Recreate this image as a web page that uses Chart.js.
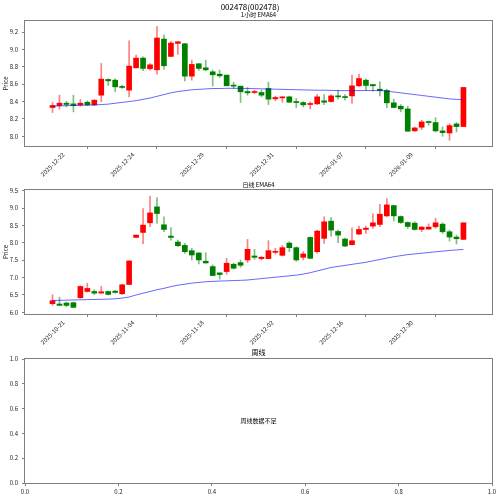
<!DOCTYPE html>
<html>
<head>
<meta charset="utf-8">
<script src="https://cdn.jsdelivr.net/npm/chart.js@4.4.1/dist/chart.umd.min.js"></script>
<style>
  body { margin: 0; background: #fff; width: 500px; height: 496px; position: relative; overflow: hidden; }
  canvas { position: absolute; left: 0; }
</style>
</head>
<body>
<canvas id="hourChart" width="500" height="180" style="top:0px"></canvas>
<canvas id="dayChart" width="500" height="165" style="top:180px"></canvas>
<canvas id="weekChart" width="500" height="151" style="top:345px"></canvas>
<script>
// 1小时 candles
const hourOpen = [8.331, 8.354, 8.381, 8.373, 8.362, 8.392, 8.362, 8.473, 8.654, 8.646,
  8.573, 8.531, 8.788, 8.900, 8.777, 8.765, 9.119, 8.919, 9.069, 9.065,
  8.692, 8.835, 8.788, 8.742, 8.715, 8.704, 8.589, 8.577, 8.515, 8.504,
  8.504, 8.550, 8.431, 8.442, 8.454, 8.400, 8.388, 8.366, 8.373, 8.408,
  8.400, 8.465, 8.454, 8.465, 8.581, 8.646, 8.596, 8.542, 8.527, 8.385,
  8.346, 8.315, 8.062, 8.104, 8.169, 8.158, 8.062, 8.038, 8.142, 8.112];
const hourHigh = [8.388, 8.473, 8.404, 8.473, 8.423, 8.408, 8.423, 8.838, 8.662, 8.662,
  8.585, 9.100, 8.935, 8.915, 8.838, 9.262, 9.165, 9.092, 9.092, 9.070,
  8.877, 8.835, 8.877, 8.762, 8.762, 8.704, 8.623, 8.577, 8.562, 8.531,
  8.531, 8.623, 8.462, 8.454, 8.462, 8.435, 8.400, 8.396, 8.481, 8.481,
  8.481, 8.531, 8.481, 8.704, 8.715, 8.662, 8.596, 8.627, 8.542, 8.427,
  8.365, 8.346, 8.108, 8.185, 8.175, 8.215, 8.108, 8.146, 8.158, 8.562];
const hourLow = [8.273, 8.312, 8.338, 8.281, 8.346, 8.354, 8.354, 8.396, 8.585, 8.512,
  8.550, 8.454, 8.788, 8.754, 8.762, 8.715, 8.773, 8.919, 8.942, 8.638,
  8.646, 8.758, 8.754, 8.577, 8.677, 8.581, 8.550, 8.388, 8.473, 8.492,
  8.454, 8.365, 8.408, 8.392, 8.388, 8.331, 8.338, 8.312, 8.365, 8.365,
  8.392, 8.427, 8.415, 8.377, 8.569, 8.531, 8.519, 8.465, 8.327, 8.331,
  8.281, 8.058, 8.058, 8.077, 8.127, 8.050, 8.000, 7.954, 8.050, 8.112];
const hourClose = [8.354, 8.381, 8.366, 8.354, 8.381, 8.362, 8.415, 8.658, 8.638, 8.569,
  8.562, 8.808, 8.900, 8.781, 8.823, 9.131, 8.812, 9.073, 9.088, 8.692,
  8.827, 8.781, 8.765, 8.708, 8.696, 8.581, 8.577, 8.512, 8.500, 8.515,
  8.473, 8.427, 8.446, 8.454, 8.392, 8.388, 8.362, 8.373, 8.454, 8.392,
  8.465, 8.454, 8.446, 8.581, 8.665, 8.585, 8.581, 8.527, 8.385, 8.331,
  8.315, 8.058, 8.096, 8.165, 8.158, 8.062, 8.042, 8.123, 8.112, 8.562];
const hourEma = [8.346, 8.350, 8.352, 8.354, 8.356, 8.358, 8.360, 8.365, 8.370, 8.380,
  8.390, 8.400, 8.410, 8.425, 8.440, 8.460, 8.480, 8.500, 8.515, 8.525,
  8.535, 8.540, 8.545, 8.550, 8.550, 8.552, 8.552, 8.552, 8.550, 8.548,
  8.546, 8.544, 8.542, 8.540, 8.538, 8.536, 8.534, 8.532, 8.530, 8.530,
  8.528, 8.526, 8.525, 8.525, 8.526, 8.527, 8.527, 8.526, 8.520, 8.510,
  8.500, 8.490, 8.480, 8.470, 8.460, 8.450, 8.440, 8.430, 8.425, 8.420];
const hourTickPos = [0, 10, 20, 30, 40, 50, 60];
const hourTickLabels = ["2025-12-22", "2025-12-24", "2025-12-29", "2025-12-31", "2026-01-07", "2026-01-09", ""];
const hourYTicks = [8.0, 8.2, 8.4, 8.6, 8.8, 9.0, 9.2];

// 日线 candles
const dayOpen = [6.248, 6.239, 6.267, 6.277, 6.420, 6.600, 6.600, 6.553, 6.600, 6.610,
  6.534, 6.801, 8.155, 8.298, 8.575, 9.033, 8.518, 8.193, 8.022, 7.926,
  7.774, 7.707, 7.469, 7.316, 7.135, 7.173, 7.383, 7.431, 7.507, 7.621,
  7.545, 7.545, 7.726, 7.640, 7.993, 7.860, 7.583, 8.155, 7.745, 8.127,
  8.623, 8.327, 8.108, 7.946, 8.251, 8.384, 8.480, 8.527, 8.775, 9.071,
  8.756, 8.585, 8.565, 8.384, 8.394, 8.461, 8.537, 8.318, 8.165, 8.098];
const dayHigh = [6.506, 6.439, 6.296, 6.296, 6.763, 6.839, 6.649, 6.744, 6.610, 6.630,
  6.811, 7.478, 8.222, 8.985, 9.347, 9.300, 8.747, 8.441, 8.079, 7.984,
  7.841, 7.717, 7.717, 7.364, 7.135, 7.555, 7.412, 7.507, 8.098, 7.812,
  7.612, 8.060, 7.841, 7.917, 8.031, 7.888, 7.745, 8.174, 8.365, 8.747,
  8.728, 8.365, 8.136, 8.432, 8.480, 8.480, 8.842, 9.109, 9.271, 9.080,
  8.775, 8.604, 8.604, 8.470, 8.546, 8.708, 8.575, 8.365, 8.222, 8.575];
const dayLow = [6.200, 6.200, 6.162, 6.143, 6.400, 6.582, 6.506, 6.553, 6.496, 6.553,
  6.506, 6.801, 8.155, 7.974, 8.461, 8.556, 8.318, 8.079, 7.888, 7.698,
  7.507, 7.392, 7.412, 7.059, 6.954, 7.097, 7.249, 7.297, 7.431, 7.526,
  7.507, 7.545, 7.679, 7.621, 7.745, 7.469, 7.507, 7.536, 7.700, 7.984,
  8.193, 8.003, 7.888, 7.936, 8.232, 8.270, 8.413, 8.461, 8.747, 8.632,
  8.556, 8.413, 8.365, 8.318, 8.394, 8.413, 8.270, 8.050, 7.965, 8.098];
const dayClose = [6.334, 6.200, 6.200, 6.143, 6.744, 6.687, 6.553, 6.591, 6.515, 6.572,
  6.792, 7.478, 8.222, 8.508, 8.861, 8.842, 8.384, 8.155, 7.917, 7.745,
  7.650, 7.507, 7.421, 7.059, 7.087, 7.412, 7.268, 7.354, 7.812, 7.583,
  7.583, 7.774, 7.745, 7.860, 7.860, 7.507, 7.679, 7.555, 8.337, 8.604,
  8.365, 8.222, 7.907, 8.060, 8.384, 8.422, 8.575, 8.823, 9.090, 8.775,
  8.585, 8.470, 8.384, 8.451, 8.451, 8.575, 8.318, 8.165, 8.117, 8.575];
const dayEma = [6.340, 6.345, 6.350, 6.355, 6.360, 6.365, 6.370, 6.375, 6.380, 6.390,
  6.410, 6.440, 6.500, 6.550, 6.600, 6.650, 6.690, 6.740, 6.780, 6.810,
  6.840, 6.860, 6.880, 6.890, 6.900, 6.905, 6.915, 6.920, 6.930, 6.950,
  6.970, 6.990, 7.010, 7.030, 7.050, 7.070, 7.100, 7.140, 7.190, 7.240,
  7.290, 7.320, 7.350, 7.380, 7.410, 7.440, 7.480, 7.520, 7.560, 7.600,
  7.630, 7.660, 7.680, 7.700, 7.720, 7.740, 7.760, 7.780, 7.795, 7.810];
const dayTickPos = [0, 10, 20, 30, 40, 50, 60];
const dayTickLabels = ["2025-10-21", "2025-11-04", "2025-11-18", "2025-12-02", "2025-12-16", "2025-12-30", ""];
const dayYTicks = [6.0, 6.5, 7.0, 7.5, 8.0, 8.5, 9.0, 9.5];

// 周线: empty axes
const weekTicks = [0.0, 0.2, 0.4, 0.6, 0.8, 1.0];

const FONT = "'Noto Sans CJK SC', 'DejaVu Sans', sans-serif";
Chart.defaults.font.family = FONT;
Chart.defaults.color = "#222";
Chart.defaults.animation = false;

const UP = "#ff0000", DOWN = "#008000";
const UP_WICK = "rgba(255,0,0,0.5)", DOWN_WICK = "rgba(0,128,0,0.5)";
const SPINE = "#7f7f7f";

// box around the plot area + free text
const figPlugin = {
    id: "fig",
    afterDraw(chart, args, opts) {
        const ctx = chart.ctx;
        const a = chart.chartArea;
        ctx.save();
        ctx.strokeStyle = SPINE;
        ctx.lineWidth = 1;
        ctx.strokeRect(Math.round(a.left) - 0.5, Math.round(a.top) - 0.5,
            Math.round(a.right - a.left) + 1, Math.round(a.bottom - a.top) + 1);
        (opts.texts || []).forEach(t => {
            ctx.font = `${t.size}px ${FONT}`;
            ctx.fillStyle = "#000";
            ctx.textAlign = "center";
            ctx.textBaseline = "middle";
            ctx.fillText(t.text, t.x, t.y);
        });
        ctx.restore();
    }
};

function fixedScale(ticks, size, fmt) {
    return {
        afterBuildTicks: s => { s.ticks = ticks.map(v => ({ value: v })); },
        afterFit: s => {
            if (s.isHorizontal()) s.height = size; else s.width = size;
        },
        grid: { drawOnChartArea: false, drawTicks: true, tickLength: 3, color: SPINE },
        border: { display: false },
        ticks: { font: { size: 6 }, color: "#222", autoSkip: false, callback: fmt }
    };
}

function candleChart(id, o, h, l, c, ema, tickPos, tickLabels, yTicks, yMin, yMax, top, xAxisH, texts) {
    const ctx = document.getElementById(id).getContext("2d");
    const up = o.map((v, i) => c[i] >= v);

    const xScale = fixedScale(tickPos, xAxisH, v => tickLabels[tickPos.indexOf(v)]);
    Object.assign(xScale, { type: "linear", min: -3.95, max: 63.1, offset: false });
    Object.assign(xScale.ticks, { maxRotation: 45, minRotation: 45, labelOffset: 11, padding: 2 });

    const yScale = fixedScale(yTicks, 25, v => v.toFixed(1));
    Object.assign(yScale, { min: yMin, max: yMax,
        title: { display: true, text: "Price", font: { size: 6 }, color: "#222", padding: { top: 2, bottom: 0 } } });
    Object.assign(yScale.ticks, { padding: 4 });

    return new Chart(ctx, {
        type: "bar",
        data: {
            datasets: [{
                type: "line",
                data: ema.map((v, i) => ({ x: i, y: v })),
                borderColor: "rgba(0,0,255,0.6)",
                borderWidth: 1,
                pointRadius: 0,
                tension: 0,
                order: 1
            }, {
                data: o.map((v, i) => ({ x: i, y: [v, c[i]] })),
                backgroundColor: up.map(u => u ? UP : DOWN),
                barThickness: 5,
                minBarLength: 1,
                grouped: false,
                order: 2
            }, {
                data: l.map((v, i) => ({ x: i, y: [v, h[i]] })),
                backgroundColor: up.map(u => u ? UP_WICK : DOWN_WICK),
                barThickness: 1,
                grouped: false,
                order: 3
            }]
        },
        options: {
            responsive: false,
            devicePixelRatio: 1,
            layout: { padding: { left: 0, right: 8, top: top, bottom: 0 } },
            plugins: { legend: { display: false }, tooltip: { enabled: false }, fig: { texts: texts } },
            scales: { x: xScale, y: yScale }
        },
        plugins: [figPlugin]
    });
}

candleChart("hourChart", hourOpen, hourHigh, hourLow, hourClose, hourEma,
    hourTickPos, hourTickLabels, hourYTicks, 7.888, 9.327, 21, 34, [
        { text: "002478(002478)", x: 250, y: 7, size: 8 },
        { text: "1小时 EMA64", x: 258.5, y: 15, size: 6 }
    ]);

candleChart("dayChart", dayOpen, dayHigh, dayLow, dayClose, dayEma,
    dayTickPos, dayTickLabels, dayYTicks, 5.952, 9.519, 10, 31, [
        { text: "日线 EMA64", x: 258.5, y: 4.7, size: 6 }
    ]);

// weekly panel: no data
const wx = fixedScale(weekTicks, 13, v => v.toFixed(1));
Object.assign(wx, { type: "linear", min: 0, max: 1 });
Object.assign(wx.ticks, { maxRotation: 0, minRotation: 0, padding: 2 });
const wy = fixedScale(weekTicks, 25, v => v.toFixed(1));
Object.assign(wy, { type: "linear", min: 0, max: 1 });
Object.assign(wy.ticks, { padding: 4 });

new Chart(document.getElementById("weekChart").getContext("2d"), {
    type: "scatter",
    data: { datasets: [{ data: [] }] },
    options: {
        responsive: false,
        devicePixelRatio: 1,
        layout: { padding: { left: 0, right: 8, top: 14, bottom: 0 } },
        plugins: { legend: { display: false }, tooltip: { enabled: false }, fig: { texts: [
            { text: "周线", x: 258.5, y: 7.7, size: 7 },
            { text: "周线数据不足", x: 258.5, y: 76, size: 6 }
        ] } },
        scales: { x: wx, y: wy }
    },
    plugins: [figPlugin]
});
</script>
</body>
</html>
